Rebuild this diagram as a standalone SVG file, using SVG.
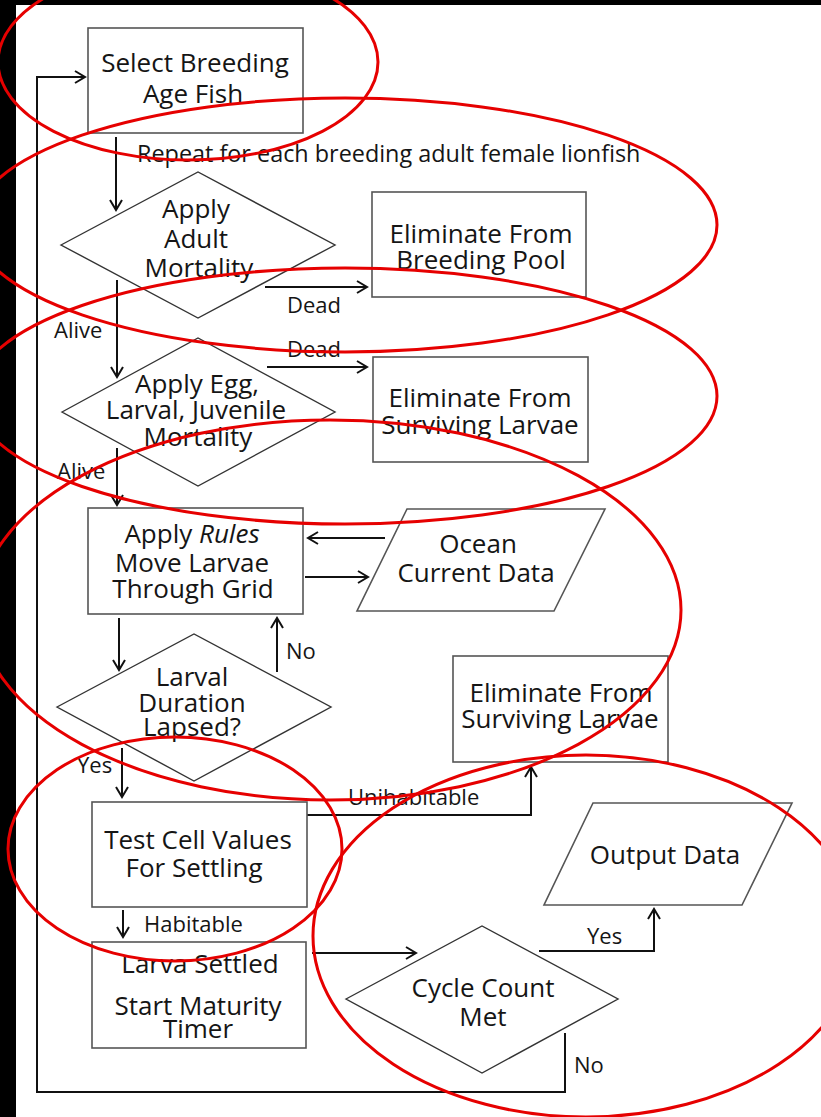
<svg xmlns="http://www.w3.org/2000/svg" width="821" height="1117" viewBox="0 0 821 1117">
<style>
.box{fill:#fff;stroke:#555;stroke-width:1.6}
.dia{fill:#fff;stroke:#333;stroke-width:1.4}
.t{font-family:"Open Sans","Noto Sans",sans-serif;font-size:26px;fill:#151515;text-anchor:middle}
.l{font-family:"Open Sans","Noto Sans",sans-serif;font-size:22px;fill:#151515}
.c{fill:none;stroke:#111;stroke-width:2}
.red{fill:none;stroke:#e60000;stroke-width:3}
</style>
<defs>
<marker id="ah" markerUnits="userSpaceOnUse" markerWidth="14" markerHeight="14" viewBox="0 0 14 14" refX="11" refY="7" orient="auto">
<path d="M1,1 L11,7 L1,13" fill="none" stroke="#111" stroke-width="2"/>
</marker>
</defs>
<rect x="0" y="0" width="821" height="1117" fill="#fff"/>
<rect x="0" y="0" width="16" height="1117" fill="#000"/>
<rect x="0" y="0" width="821" height="5" fill="#000"/>

<g id="connectors">
<path class="c" d="M116,137 V210" marker-end="url(#ah)"/>
<path class="c" d="M265,287 H367" marker-end="url(#ah)"/>
<path class="c" d="M117,280 V377" marker-end="url(#ah)"/>
<path class="c" d="M267,367 H367" marker-end="url(#ah)"/>
<path class="c" d="M117,448 V505" marker-end="url(#ah)"/>
<path class="c" d="M385,538 H308" marker-end="url(#ah)"/>
<path class="c" d="M305,577 H368" marker-end="url(#ah)"/>
<path class="c" d="M119,618 V670" marker-end="url(#ah)"/>
<path class="c" d="M277,672 V618" marker-end="url(#ah)"/>
<path class="c" d="M122,748 V797" marker-end="url(#ah)"/>
<path class="c" d="M307,815 H531 V767" marker-end="url(#ah)"/>
<path class="c" d="M123,910 V937" marker-end="url(#ah)"/>
<path class="c" d="M312,953 H416" marker-end="url(#ah)"/>
<path class="c" d="M539,951 H654 V909" marker-end="url(#ah)"/>
<path class="c" d="M565,1033 V1092 H37 V77 H85" marker-end="url(#ah)"/>
<text class="l" x="137" y="162" style="font-size:23.4px">Repeat for each breeding adult female lionfish</text>
<text class="l" x="287" y="313">Dead</text>
<text class="l" x="54" y="338">Alive</text>
<text class="l" x="287" y="357">Dead</text>
<text class="l" x="57" y="479">Alive</text>
<text class="l" x="286" y="659">No</text>
<text class="l" x="77" y="773">Yes</text>
<text class="l" x="348" y="805">Unihabitable</text>
<text class="l" x="144" y="932">Habitable</text>
<text class="l" x="587" y="944">Yes</text>
<text class="l" x="574" y="1073">No</text>
</g>

<g id="n-select">
<rect class="box" x="88" y="28" width="215" height="105"/>
<text class="t" x="195" y="72">Select Breeding</text>
<text class="t" x="193" y="103">Age Fish</text>
</g>
<g id="n-adult">
<polygon class="dia" points="61,245 198,172 335,245 198,318"/>
<text class="t" x="196" y="218">Apply</text>
<text class="t" x="196" y="248">Adult</text>
<text class="t" x="199" y="277">Mortality</text>
</g>
<g id="n-elim-pool">
<rect class="box" x="372" y="192" width="214" height="105"/>
<text class="t" x="481" y="243">Eliminate From</text>
<text class="t" x="481" y="269">Breeding Pool</text>
</g>
<g id="n-egg">
<polygon class="dia" points="62,412 198,338 335,412 198,486"/>
<text class="t" x="197" y="393">Apply Egg,</text>
<text class="t" x="196" y="419">Larval, Juvenile</text>
<text class="t" x="198" y="446">Mortality</text>
</g>
<g id="n-elim-surv1">
<rect class="box" x="373" y="357" width="215" height="105"/>
<text class="t" x="480" y="407">Eliminate From</text>
<text class="t" x="480" y="434">Surviving Larvae</text>
</g>
<g id="n-rules">
<rect class="box" x="88" y="508" width="215" height="106"/>
<text class="t" x="192" y="543">Apply <tspan font-style="italic">Rules</tspan></text>
<text class="t" x="192" y="572">Move Larvae</text>
<text class="t" x="193" y="598">Through Grid</text>
</g>
<g id="n-ocean">
<polygon class="box" points="407,509 605,509 554,611 357,611"/>
<text class="t" x="478" y="553">Ocean</text>
<text class="t" x="476" y="582">Current Data</text>
</g>
<g id="n-duration">
<polygon class="dia" points="57,707 194,634 331,707 194,781"/>
<text class="t" x="192" y="686">Larval</text>
<text class="t" x="192" y="712">Duration</text>
<text class="t" x="192" y="736">Lapsed?</text>
</g>
<g id="n-test">
<rect class="box" x="92" y="802" width="215" height="105"/>
<text class="t" x="198" y="849">Test Cell Values</text>
<text class="t" x="194" y="877">For Settling</text>
</g>
<g id="n-elim-surv2">
<rect class="box" x="453" y="656" width="215" height="106"/>
<text class="t" x="561" y="702">Eliminate From</text>
<text class="t" x="560" y="728">Surviving Larvae</text>
</g>
<g id="n-settled">
<rect class="box" x="92" y="942" width="214" height="106"/>
<text class="t" x="200" y="973">Larva Settled</text>
<text class="t" x="198" y="1015">Start Maturity</text>
<text class="t" x="198" y="1038">Timer</text>
</g>
<g id="n-cycle">
<polygon class="dia" points="346,999 482,926 618,999 482,1073"/>
<text class="t" x="483" y="997">Cycle Count</text>
<text class="t" x="483" y="1026">Met</text>
</g>
<g id="n-output">
<polygon class="box" points="593,803 792,803 742,905 544,905"/>
<text class="t" x="665" y="864">Output Data</text>
</g>

<g id="annotations">
<ellipse class="red" cx="188" cy="62" rx="190" ry="98"/>
<ellipse class="red" cx="345" cy="225" rx="372" ry="127"/>
<ellipse class="red" cx="345" cy="396" rx="372" ry="128"/>
<ellipse class="red" cx="330" cy="610" rx="351" ry="190"/>
<ellipse class="red" cx="175" cy="849" rx="167" ry="112"/>
<ellipse class="red" cx="586" cy="936" rx="273" ry="181"/>
</g>
</svg>
